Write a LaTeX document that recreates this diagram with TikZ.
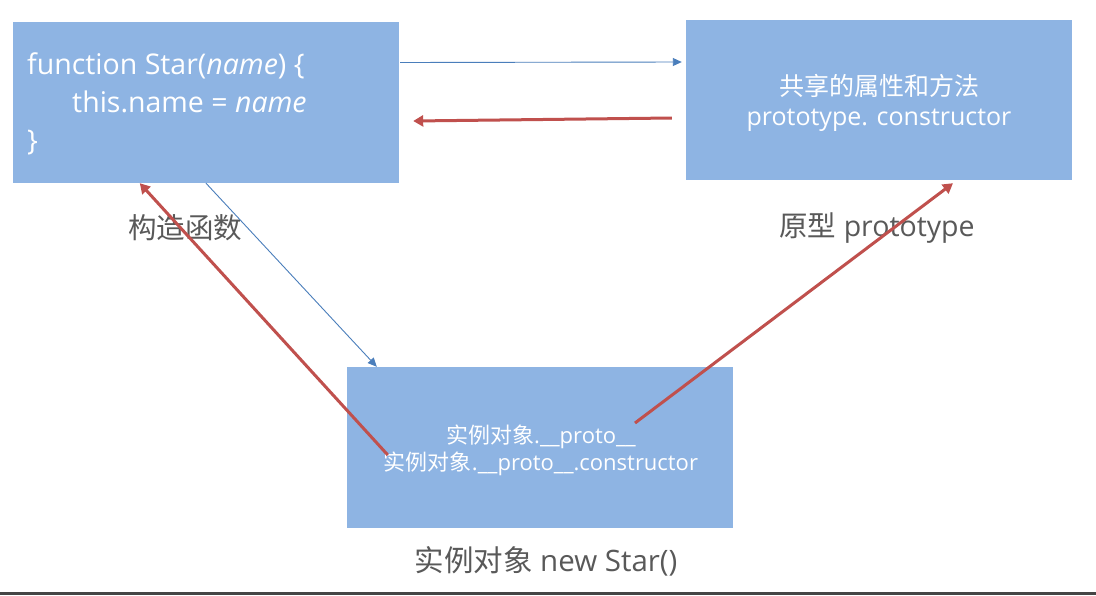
\documentclass[tikz,border=0pt]{standalone}
\usepackage{fontspec}
\setmainfont{Open Sans}
\newfontfamily\cjk{Noto Sans CJK SC}
\usetikzlibrary{calc,arrows.meta}
\definecolor{boxfill}{HTML}{8EB4E3}
\definecolor{redline}{HTML}{C0504D}
\definecolor{blueline}{HTML}{4A7EBB}
\definecolor{labelgray}{HTML}{595959}
\definecolor{rulegray}{HTML}{454545}
\tikzset{
  box/.style={fill=boxfill, draw=none, minimum width=386pt, minimum height=161pt, inner sep=0pt, text=white},
  lbl/.style={text=labelgray, inner sep=0pt, font=\fontsize{29}{32}\selectfont},
  codetext/.style={anchor=base west, text=white, inner sep=0pt, font=\fontsize{28.5}{32}\selectfont},
  bluearrow/.style={draw=blueline, line width=0.9pt, -{Triangle[length=9pt,width=8pt]}},
  redarrow/.style={draw=redline, line width=3pt, -{Triangle[length=10pt,width=11pt]}}
}
\begin{document}
\begin{tikzpicture}[x=1pt,y=-1pt]
\useasboundingbox (0,0) rectangle (1096,595);
\fill[white] (0,0) rectangle (1096,595);
\fill[rulegray] (0,592) rectangle (1096,595);

\node[box] (A) at (206,102.5) {};
\node[box, minimum height=160pt] (B) at (879,100) {};
\node[box] (C) at (540,447.5) {};

\node[codetext] (a1) at (27,74) {function Star(\textit{name}) \{};
\node[codetext] (a2) at (72,112) {this.name = \textit{name}};
\node[codetext] (a3) at (27,150) {\}};

\node[text=white, inner sep=0pt, align=center, font=\fontsize{25}{30}\selectfont] (b1) at (879,102.5)
  {{\cjk 共享的属性和方法}\\prototype. constructor};

\node[text=white, inner sep=0pt, align=center, font=\fontsize{22}{27}\selectfont] (c1) at (541,450)
  {{\cjk 实例对象}.\_\_proto\_\_\\{\cjk 实例对象}.\_\_proto\_\_.constructor};

\node[lbl, font=\fontsize{28.5}{32}\selectfont] (la) at (185,228) {\cjk 构造函数};
\node[lbl, font=\fontsize{28.5}{32}\selectfont] (lb) at (877,228) {{\cjk 原型} prototype};
\node[lbl, font=\fontsize{29.5}{32}\selectfont] (lc) at (546,561) {{\cjk 实例对象} new Star()};

\draw[bluearrow] ($(A.east)+(1,-40)$) -- ($(B.west)+(-4,-38)$);
\draw[redarrow] ($(B.west)+(-14,18)$) -- ($(A.east)+(14,18.5)$);
\draw[bluearrow] (A.south) -- ($(C.north west)+(30,0)$);
\draw[redarrow] ($(C.west)+(41,7.5)$) -- ($(A.south west)+(127,0)$);
\draw[redarrow] ($(C.center)+(95,-24.5)$) -- ($(B.south)+(74,3)$);
\end{tikzpicture}
\end{document}
